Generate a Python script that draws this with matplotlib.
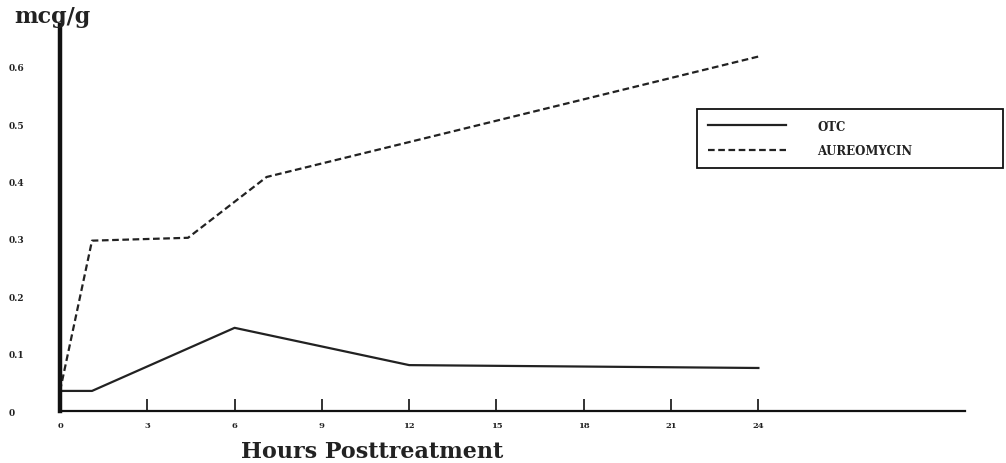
import matplotlib
matplotlib.use("Agg")
import matplotlib.pyplot as plt

# values
otc_hours = [0, 1.1, 6, 12, 24]
otc_conc = [0.035, 0.035, 0.145, 0.08, 0.075]

aureo_hours = [0, 1.1, 4.4, 7.1, 24]
aureo_conc = [0.035, 0.297, 0.302, 0.408, 0.618]

x_ticks = [0, 3, 6, 9, 12, 15, 18, 21, 24]
x_tick_labels = ["0", "3", "6", "9", "12", "15", "18", "21", "24"]
y_ticks = [0, 0.1, 0.2, 0.3, 0.4, 0.5, 0.6]
y_tick_labels = ["0", "0.1", "0.2", "0.3", "0.4", "0.5", "0.6"]

plt.rcParams["font.family"] = ["DejaVu Serif"]

W, H = 1006, 464
fig = plt.figure(figsize=(W / 100, H / 100), dpi=100)
left, right, top, bottom = 60, 965, 26, 412
ax = fig.add_axes([left / W, 1 - bottom / H, (right - left) / W, (bottom - top) / H])

ax.plot(otc_hours, otc_conc, color="#222222", lw=1.6, label="OTC")
ax.plot(aureo_hours, aureo_conc, color="#222222", lw=1.6, ls=(0, (3, 1.6)),
        label="AUREOMYCIN")

ax.set_xlim(0, 31.1)
ax.set_ylim(0, 0.673)

for s in ["top", "right"]:
    ax.spines[s].set_visible(False)
ax.spines["left"].set_linewidth(3.2)
ax.spines["left"].set_color("#111111")
ax.spines["bottom"].set_linewidth(1.6)
ax.spines["bottom"].set_color("#111111")

ax.set_xticks(x_ticks)
ax.set_xticklabels(x_tick_labels, fontsize=6, fontweight="bold")
ax.tick_params(axis="x", direction="in", length=9, width=1.3, pad=7, colors="#222222")
ax.set_yticks(y_ticks)
ax.set_yticklabels(y_tick_labels, fontsize=6.5, fontweight="bold")
ax.tick_params(axis="y", length=0, pad=37, colors="#222222")
for lab in ax.get_yticklabels():
    lab.set_horizontalalignment("left")

fig.text(14 / W, 1 - 17 / H, "mcg/g", fontsize=16, va="center", ha="left",
         fontweight="bold", color="#222222")
fig.text(241 / W, 1 - 452 / H, "Hours Posttreatment", fontsize=16, va="center",
         ha="left", fontweight="bold", color="#222222")

leg = ax.legend(loc="upper left", bbox_to_anchor=(697 / W, 1 - 169 / H, 306 / W, 59 / H),
                bbox_transform=fig.transFigure, mode="expand", borderaxespad=0,
                fontsize=8.5, handlelength=6.6, handletextpad=2.7, labelspacing=1.0,
                borderpad=0.9, fancybox=False, frameon=True, framealpha=1)
leg.get_frame().set_edgecolor("#111111")
leg.get_frame().set_linewidth(1.3)
for t in leg.get_texts():
    t.set_fontweight("bold")
    t.set_color("#222222")

fig.savefig("out.png", dpi=100)
